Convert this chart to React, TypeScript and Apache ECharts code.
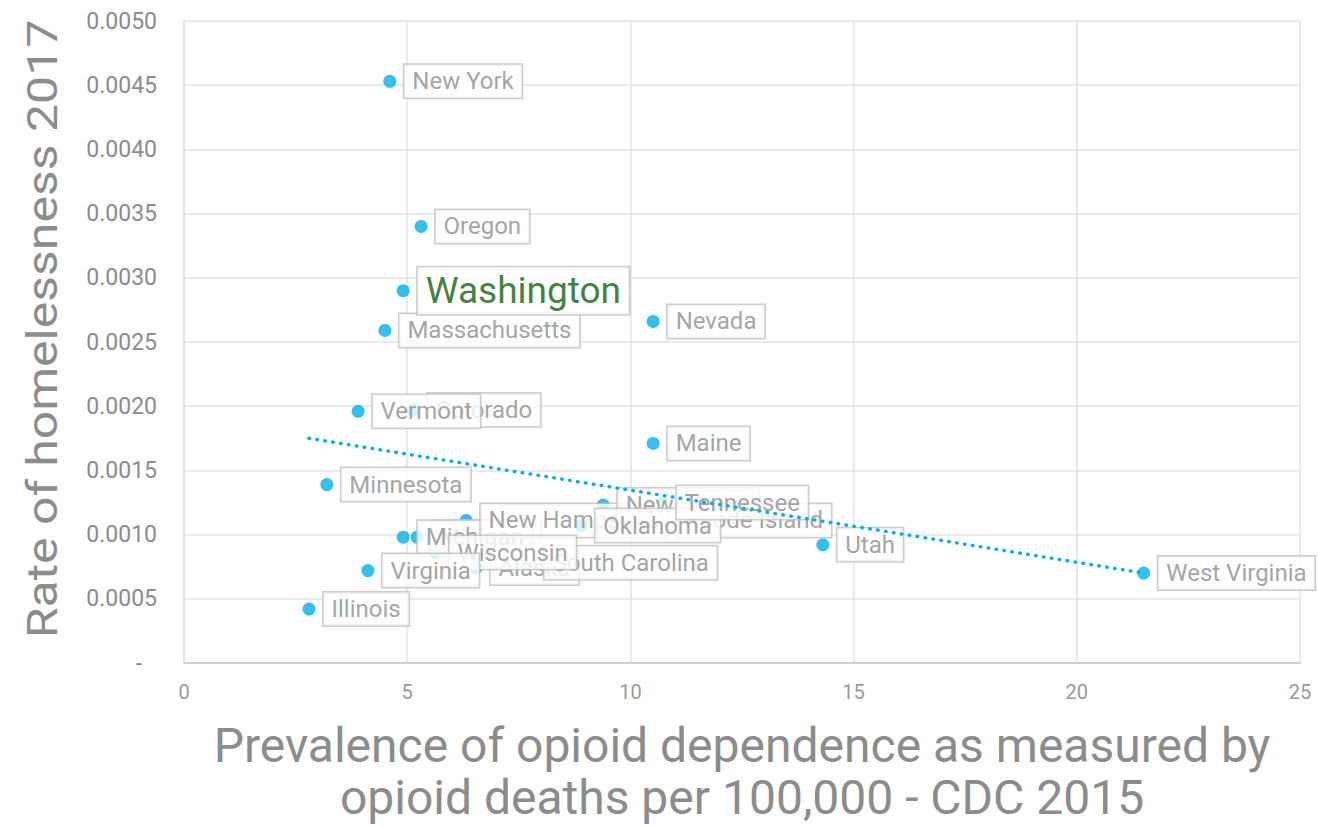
import React, { useEffect, useRef } from "react";
import * as echarts from "echarts";

// Draw order matters: later labels sit on top of earlier ones.
const states = [
  "New York", "Oregon", "Massachusetts", "Nevada", "Maine", "Minnesota", "Illinois",
  "Utah", "West Virginia", "Colorado", "Vermont", "Missouri", "Michigan", "Alaska",
  "South Carolina", "New Hampshire", "New Jersey", "Rhode Island", "Oklahoma",
  "Tennessee", "Wisconsin", "Virginia", "Washington",
];
const opioidDeaths = [
  4.61, 5.31, 4.50, 10.51, 10.51, 3.20, 2.80,
  14.31, 21.50, 5.13, 3.90, 5.22, 4.91, 6.54,
  7.75, 6.32, 9.39, 10.71, 8.89,
  10.71, 5.62, 4.12, 4.91,
];
const homelessRate = [
  0.00453, 0.00340, 0.00259, 0.00266, 0.00171, 0.00139, 0.00042,
  0.00092, 0.00070, 0.00197, 0.00196, 0.00098, 0.00098, 0.00074,
  0.00078, 0.00111, 0.00123, 0.00111, 0.00107,
  0.00125, 0.00086, 0.00072, 0.00290,
];
const trendX = [2.8, 21.5];
const trendY = [0.00175, 0.0007];
const highlighted = "Washington";

const xTitle = "Prevalence of opioid dependence as measured by\nopioid deaths per 100,000 - CDC 2015";
const yTitle = "Rate of homelessness 2017";

export default function App() {
  const ref = useRef<HTMLDivElement>(null);
  useEffect(() => {
    if (!ref.current) return;
    const chart = echarts.init(ref.current, null, { renderer: "svg" });
    const font = "Roboto";
    const grey = "#8c8c8c";
    const data = states.map((s, i) => {
      const item: any = { name: s, value: [opioidDeaths[i], homelessRate[i]] };
      if (s === highlighted) {
        item.label = {
          color: "#0a620a",
          fontSize: 37,
          padding: [6, 8, 4, 8],
        };
      }
      return item;
    });
    chart.setOption({
      animation: false,
      backgroundColor: "#ffffff",
      textStyle: { fontFamily: font },
      grid: {
        left: 184,
        right: 18,
        top: 21,
        bottom: 163,
        containLabel: false,
        outerBoundsMode: "none",
      },
      graphic: [
        {
          type: "text",
          x: 42,
          y: 329,
          rotation: Math.PI / 2,
          scaleY: 0.86,
          style: {
            text: yTitle,
            fontSize: 50,
            fontFamily: font,
            fill: grey,
            align: "center",
            verticalAlign: "middle",
          },
        },
      ],
      xAxis: {
        type: "value",
        min: 0,
        max: 25,
        interval: 5,
        name: xTitle,
        nameLocation: "middle",
        nameGap: 56,
        nameTextStyle: { fontSize: 48, color: grey, fontFamily: font, lineHeight: 52 },
        axisLine: { show: true, onZero: false, lineStyle: { color: "#d0d0d0", width: 2 } },
        axisTick: { show: false },
        axisLabel: { fontSize: 20, color: "#9a9a9a", margin: 19, fontFamily: font },
        splitLine: { show: true, lineStyle: { color: "#e3e3e3", width: 1.5 } },
      },
      yAxis: {
        type: "value",
        min: 0,
        max: 0.005,
        interval: 0.0005,
        axisLine: { show: true, lineStyle: { color: "#e0e0e0", width: 1.5 } },
        axisTick: { show: false },
        axisLabel: {
          fontSize: 23,
          color: grey,
          margin: 27,
          fontFamily: font,
          formatter: (v: number) => (v === 0 ? "{d|-}" : v.toFixed(4)),
          rich: { d: { fontSize: 23, color: grey, padding: [0, 15, 0, 0] } },
        },
        splitLine: { show: true, lineStyle: { color: "#e3e3e3", width: 1.5 } },
      },
      series: [
        {
          type: "scatter",
          z: 2,
          symbolSize: 13,
          itemStyle: { color: "#00b0ea" },
          data,
          label: {
            show: true,
            position: "right",
            distance: 8,
            formatter: "{b}",
            color: grey,
            fontSize: 24,
            fontFamily: font,
            backgroundColor: "#ffffff",
            borderColor: "#c0c0c0",
            borderWidth: 1.5,
            padding: [5, 8, 4, 8],
          },
        },
        {
          type: "line",
          z: 5,
          symbol: "none",
          data: trendX.map((x, i) => [x, trendY[i]]),
          lineStyle: { color: "#00b0ea", width: 3.5, type: [0.5, 7.5], cap: "round" },
          silent: true,
        },
      ],
    });
    return () => chart.dispose();
  }, []);
  return (
    <div
      ref={ref}
      style={{ position: "fixed", left: 0, top: 0, width: 1318, height: 826 }}
    />
  );
}
